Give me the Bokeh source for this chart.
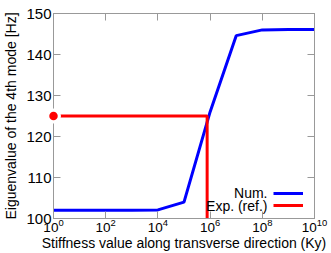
from bokeh.plotting import figure
from bokeh.models import (FixedTicker, LogAxis, LinearAxis, Label, Legend, LegendItem,
                          CustomJSTickFormatter, Range1d)
from bokeh.core.properties import value
from bokeh.embed import file_html
from bokeh.resources import INLINE

# ---- data ----
stiffness = [1e0, 1e1, 1e2, 1e3, 1e4, 1e5, 1e6, 1e7, 1e8, 1e9, 1e10]
eig_num = [102.0, 102.0, 102.0, 102.0, 102.1, 104.0, 126.0, 144.6, 146.0, 146.1, 146.1]
exp_x = [1.0, 7.7e5, 7.7e5]
exp_y = [125.0, 125.0, 100.0]
exp_point_x = [1.0]
exp_point_y = [125.0]
x_ticks = [1e0, 1e2, 1e4, 1e6, 1e8, 1e10]
y_ticks = [100, 110, 120, 130, 140, 150]
series_labels = ["Num.", "Exp. (ref.)"]
x_label = "Stiffness value along transverse direction (Ky)"
y_label = "Eiguenvalue of the 4th mode [Hz]"

FONT = "Liberation Sans"
GRAY = "#999999"
W, H = 331, 253
ML, MR, MT, MB = 53, 17, 13, 35
FW, FH = W - ML - MR, H - MT - MB

p = figure(width=W, height=H, x_axis_type="log", output_backend="svg",
           toolbar_location=None, x_range=Range1d(1, 1e10), y_range=Range1d(100, 150),
           min_border_left=ML, min_border_right=MR, min_border_top=MT,
           min_border_bottom=MB)
p.grid.visible = False
p.outline_line_color = GRAY
p.background_fill_color = "white"
p.border_fill_color = "white"

for ax in (p.xaxis[0], p.yaxis[0]):
    ax.axis_line_color = GRAY
    ax.major_tick_line_color = GRAY
    ax.major_tick_in = 7
    ax.major_tick_out = 0
    ax.minor_tick_line_color = None
    ax.major_label_text_font = FONT
    ax.major_label_text_color = "black"
    ax.axis_label_text_font = FONT
    ax.axis_label_text_font_size = "14px"
    ax.axis_label_text_font_style = "normal"
    ax.axis_label_text_color = "black"

p.xaxis[0].ticker = FixedTicker(ticks=x_ticks)
p.xaxis[0].major_label_standoff = 0
p.xaxis[0].major_label_text_font_size = "13.5px"
p.xaxis[0].axis_label = x_label
p.xaxis[0].axis_label_standoff = 0
p.yaxis[0].ticker = FixedTicker(ticks=y_ticks)
p.yaxis[0].major_label_text_font_size = "15px"
p.yaxis[0].axis_label = y_label
p.yaxis[0].major_label_standoff = 2
p.yaxis[0].axis_label_standoff = 4

top = LogAxis(ticker=FixedTicker(ticks=x_ticks), formatter=CustomJSTickFormatter(code="return ''"),
              major_label_text_font_size="0px", major_label_standoff=0,
              axis_line_color=GRAY, major_tick_line_color=GRAY,
              major_tick_in=7, major_tick_out=0, minor_tick_line_color=None)
right = LinearAxis(ticker=FixedTicker(ticks=y_ticks), formatter=CustomJSTickFormatter(code="return ''"),
                   major_label_text_font_size="0px", major_label_standoff=0,
                   axis_line_color=GRAY, major_tick_line_color=GRAY,
                   major_tick_in=7, major_tick_out=0, minor_tick_line_color=None)
p.add_layout(top, "above")
p.add_layout(right, "right")

r_num = p.line(stiffness, eig_num, line_color="#0000ff", line_width=3)
r_exp = p.line(exp_x, exp_y, line_color="#ff0000", line_width=3)
p.scatter(exp_point_x, exp_point_y, size=15, fill_color="white", line_color=None, level="overlay")
p.scatter(exp_point_x, exp_point_y, size=8.5, fill_color="#ff0000", line_color=None, level="overlay")

# legend: text right-aligned, line samples to the right (gnuplot style)
legend = Legend(items=[LegendItem(label=value(""), renderers=[r_num]),
                       LegendItem(label=value(""), renderers=[r_exp])],
                location=(FW - 41, 7), orientation="vertical",
                glyph_width=30, glyph_height=12, label_width=0, label_height=0,
                label_standoff=0, label_text_font_size="0px", spacing=0,
                padding=0, margin=0, border_line_alpha=0, background_fill_alpha=0)
p.add_layout(legend, "center")
for txt, yy in zip(series_labels, [25.3, 13]):
    p.add_layout(Label(x=FW - 47, y=yy, x_units="screen", y_units="screen", text=txt,
                       text_align="right", text_baseline="middle", text_font=FONT,
                       text_font_size="14px", text_color="black"))

open("out.html", "w").write(file_html(p, INLINE))
